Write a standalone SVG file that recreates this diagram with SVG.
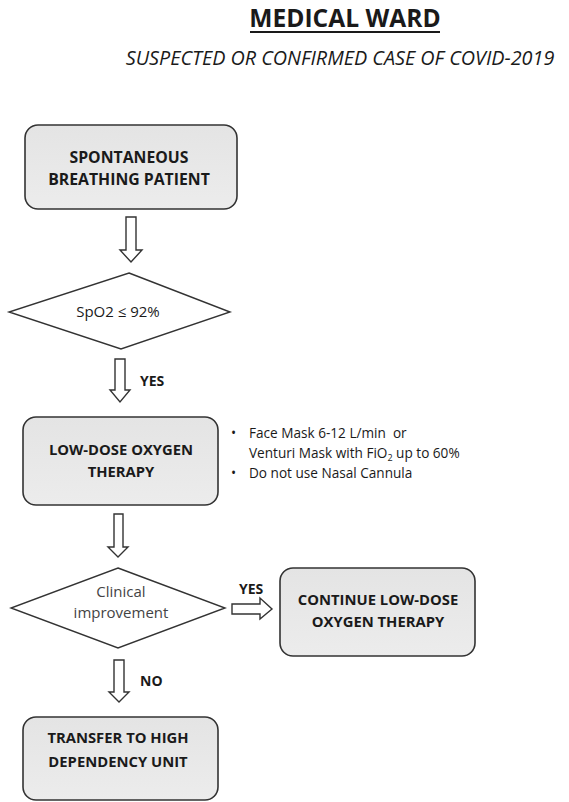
<svg xmlns="http://www.w3.org/2000/svg" width="569" height="802" viewBox="0 0 569 802">
  <defs>
    <linearGradient id="boxFill" x1="0" y1="0" x2="0" y2="1">
      <stop offset="0" stop-color="#e4e4e4"/>
      <stop offset="1" stop-color="#ececec"/>
    </linearGradient>
    <style>
      .box { fill: url(#boxFill); stroke: #333; stroke-width: 1.6; }
      .dia { fill: #fff; stroke: #333; stroke-width: 1.4; }
      .arw { fill: #fff; stroke: #333; stroke-width: 1.4; stroke-linejoin: miter; }
      .t { font-family: "Open Sans", "Liberation Sans", sans-serif; fill: #1a1a1a; }
      .b { font-weight: bold; font-size: 14.8px; text-anchor: middle; }
      .lbl { font-weight: bold; font-size: 14px; }
      .note { font-size: 13.6px; }
      .q { font-size: 15px; text-anchor: middle; }
    </style>
  </defs>

  <rect width="569" height="802" fill="#fff"/>

  <!-- heading -->
  <g id="title">
    <text class="t" x="345" y="27" font-size="24.6" font-weight="bold" text-anchor="middle">MEDICAL WARD</text>
    <rect x="250" y="31" width="190" height="2" fill="#1a1a1a"/>
    <text class="t" x="340" y="65" font-size="19.8" font-style="italic" text-anchor="middle">SUSPECTED OR CONFIRMED CASE OF COVID-2019</text>
  </g>

  <!-- nodes -->
  <g id="patient">
    <rect class="box" x="25" y="125" width="212" height="84" rx="13"/>
    <text class="t b" x="129" y="163" style="font-size:15.8px">SPONTANEOUS</text>
    <text class="t b" x="129" y="185" style="font-size:15.8px">BREATHING PATIENT</text>
  </g>

  <g id="spo2">
    <polygon class="dia" points="129,273 230,312 121,349 9,312"/>
    <text class="t q" x="118" y="317">SpO2 ≤ 92%</text>
  </g>

  <g id="lowdose">
    <rect class="box" x="23" y="417" width="195" height="88" rx="13"/>
    <text class="t b" x="121" y="455">LOW-DOSE OXYGEN</text>
    <text class="t b" x="121" y="477">THERAPY</text>
  </g>

  <g id="lowdose-notes">
    <text class="t note" x="231" y="438">•</text>
    <text class="t note" x="249" y="438" xml:space="preserve">Face Mask 6-12 L/min  or</text>
    <text class="t note" x="249" y="458">Venturi Mask with FiO<tspan font-size="9" dy="3">2</tspan><tspan dy="-3"> up to 60%</tspan></text>
    <text class="t note" x="231" y="478">•</text>
    <text class="t note" x="249" y="478">Do not use Nasal Cannula</text>
  </g>

  <g id="improvement">
    <polygon class="dia" points="118,568 225,608 118,648 11,608"/>
    <text class="t q" x="121" y="597" style="fill:#444">Clinical</text>
    <text class="t q" x="121" y="618" style="fill:#444">improvement</text>
  </g>

  <g id="continue">
    <rect class="box" x="280" y="568" width="195" height="88" rx="13"/>
    <text class="t b" x="378" y="605">CONTINUE LOW-DOSE</text>
    <text class="t b" x="378" y="627">OXYGEN THERAPY</text>
  </g>

  <g id="transfer">
    <rect class="box" x="23" y="717" width="195" height="83" rx="13"/>
    <text class="t b" x="118" y="743">TRANSFER TO HIGH</text>
    <text class="t b" x="118" y="767">DEPENDENCY UNIT</text>
  </g>

  <!-- connectors: hollow block arrows -->
  <g id="connectors">
    <polygon class="arw" points="126,217 136,217 136,250 142,250 131,262 120,250 126,250"/>
    <polygon class="arw" points="115,359 125,359 125,390 130,390 120,402 110,390 115,390"/>
    <polygon class="arw" points="114,514 123,514 123,547 128,547 118,557 108,547 114,547"/>
    <polygon class="arw" points="232,604 260,604 260,598 272,609 260,619 260,614 232,614"/>
    <polygon class="arw" points="114,660 124,660 124,692 129,692 119,702 109,692 114,692"/>
    <text class="t lbl" x="140" y="386">YES</text>
    <text class="t lbl" x="239" y="594">YES</text>
    <text class="t lbl" x="140" y="686">NO</text>
  </g>
</svg>
